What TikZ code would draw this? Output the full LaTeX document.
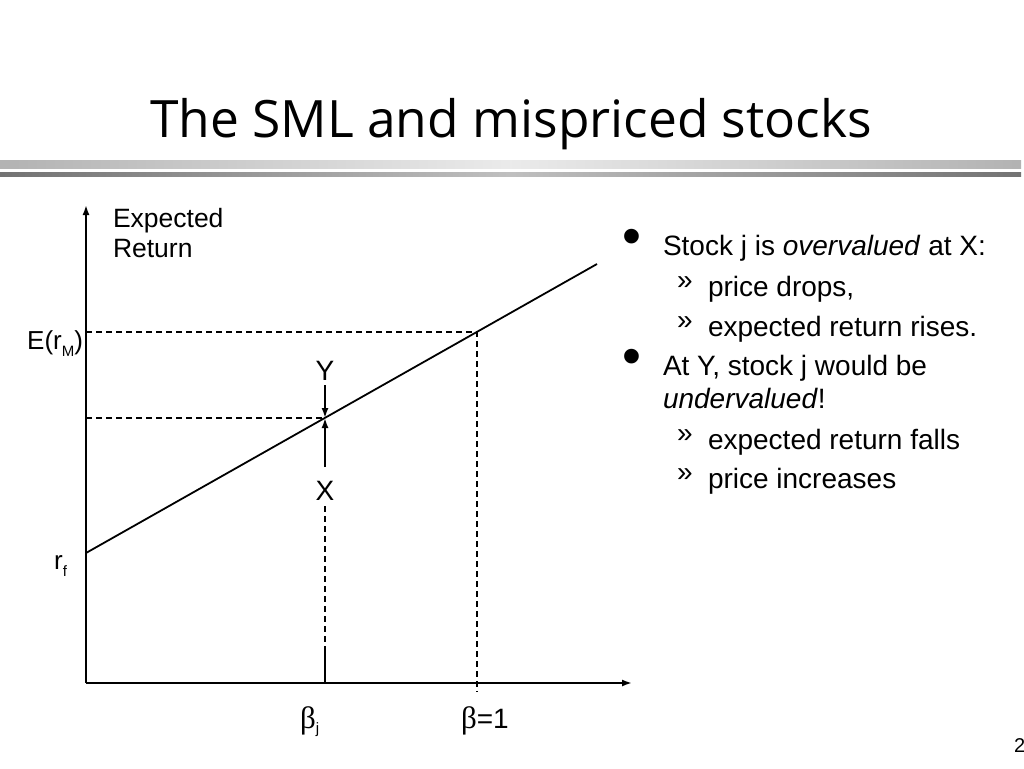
\documentclass[tikz,border=0pt]{standalone}
\usepackage{fontspec}
\setmainfont{Liberation Sans}
\newfontfamily\titlefont{Open Sans}
\newfontfamily\grkfont{Liberation Serif}
\usetikzlibrary{arrows.meta}
\newcommand{\fsz}[1]{\fontsize{#1}{#1}\selectfont}
\begin{document}
\begin{tikzpicture}[x=1pt,y=-1pt,
  lbl/.style={inner sep=0pt, outer sep=0pt},
  axis/.style={line width=1.8pt, -{Latex[length=10pt,width=7pt]}},
  dsh/.style={line width=1.5pt, dash pattern=on 6pt off 4pt},
  ln/.style={line width=1.8pt},
  pt/.style={line width=1.8pt, -{Latex[length=10pt,width=7pt]}}]
\useasboundingbox (0,0) rectangle (1024,768);
\fill[white] (0,0) rectangle (1024,768);
% title
\node[lbl, anchor=base] (title) at (511,137) {\titlefont\fsz{51.5}The SML and mispriced stocks};
\shade[left color=black!30, right color=black!30, middle color=black!8] (0,160) rectangle (1021,168);
\shade[left color=black!55, right color=black!55, middle color=black!25] (0,172.5) rectangle (1021,176.5);
% coordinates
\coordinate (O) at (86,683);
\coordinate (ytop) at (86,205);
\coordinate (xend) at (632,683);
\coordinate (rf) at (86,553);
\coordinate (smlend) at (597,264);
\coordinate (M) at (477,332);
\coordinate (MY) at (86,332);
\coordinate (MX) at (477,692);
\coordinate (P) at (325,418);
\coordinate (PY) at (86,418);
\coordinate (Ya) at (325,385);
\coordinate (Xa) at (325,467);
\coordinate (Xd) at (325,506);
\coordinate (Xs) at (325,651);
\coordinate (Bj) at (325,683);
% axes
\draw[axis] (O) -- (ytop);
\draw[axis] (O) -- (xend);
% SML
\draw[ln] (rf) -- (smlend);
% dashed guides
\draw[dsh] (MY) -- (M) -- (MX);
\draw[dsh] (PY) -- (P);
\draw[dsh] (Xd) -- (Xs);
\draw[ln] (Xs) -- (Bj);
% Y and X
\node[lbl, anchor=base] (Y) at (325,380) {\fsz{28}Y};
\node[lbl, anchor=base] (X) at (325,500) {\fsz{28}X};
\draw[pt] (Ya) -- (P);
\draw[pt] (Xa) -- (P);
% axis labels
\node[lbl, anchor=base west] (er1) at (113,227) {\fsz{26.5}Expected};
\node[lbl, anchor=base west] (er2) at (113,257) {\fsz{26.5}Return};
\node[lbl, anchor=base east] (erm) at (83,349) {\fsz{26}E(r\raisebox{-0.3em}{\fsz{15}M})};
\node[lbl, anchor=base east] (rfl) at (67,569) {\fsz{26}r\raisebox{-0.3em}{\fsz{15}f}};
\node[lbl, anchor=base west] (bj) at (300,728) {{\grkfont\fsz{31}β}\raisebox{-0.5em}{\fsz{15}j}};
\node[lbl, anchor=base west] (b1) at (461,728) {{\grkfont\fsz{31}β}\fsz{28}=1};
% bullets
\node[lbl, anchor=center] (d1) at (632,242) {\fsz{54}•};
\node[lbl, anchor=base west] (t1) at (663,255) {\fsz{28}Stock j is \textit{overvalued} at X:};
\node[lbl, anchor=base west] (s1) at (677,289) {\fsz{28}»};
\node[lbl, anchor=base west] (t2) at (708,296) {\fsz{28}price drops,};
\node[lbl, anchor=base west] (s2) at (677,329) {\fsz{28}»};
\node[lbl, anchor=base west] (t3) at (708,336) {\fsz{28}expected return rises.};
\node[lbl, anchor=center] (d2) at (632,362) {\fsz{54}•};
\node[lbl, anchor=base west] (t4) at (663,375) {\fsz{28}At Y, stock j would be};
\node[lbl, anchor=base west] (t5) at (663,408) {\fsz{28}\textit{undervalued}!};
\node[lbl, anchor=base west] (s3) at (677,442) {\fsz{28}»};
\node[lbl, anchor=base west] (t6) at (708,449) {\fsz{28}expected return falls};
\node[lbl, anchor=base west] (s4) at (677,481) {\fsz{28}»};
\node[lbl, anchor=base west] (t7) at (708,488) {\fsz{28}price increases};
% page number
\node[lbl, anchor=base west] (pg) at (1014,752) {\fsz{20}2};
\end{tikzpicture}
\end{document}
